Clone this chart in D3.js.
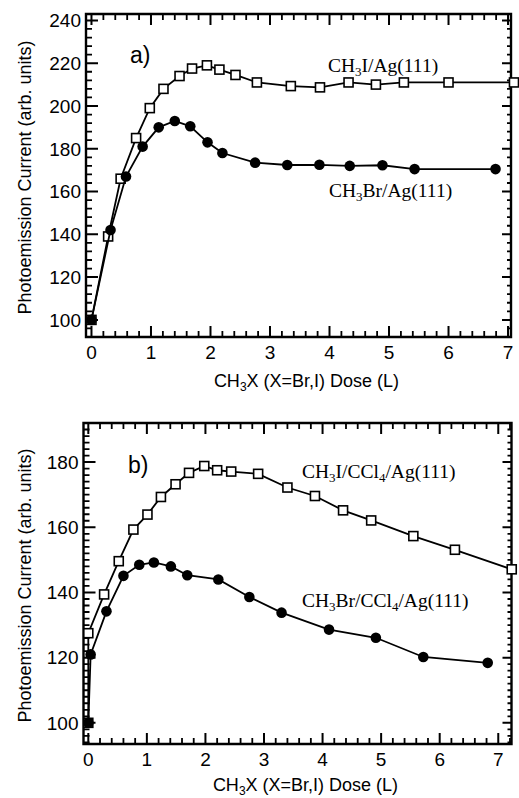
<!DOCTYPE html>
<html>
<head>
<meta charset="utf-8">
<script src="https://cdn.jsdelivr.net/npm/d3@7"></script>
<style>
  body { margin: 0; background: #fff; }
  svg { display: block; }
</style>
</head>
<body>
<script>
// panel a) CH3I and CH3Br on Ag(111)
const doseI_a = [0, 0.28, 0.49, 0.75, 0.98, 1.21, 1.48, 1.69, 1.94, 2.15, 2.42, 2.78, 3.35, 3.84, 4.32, 4.78, 5.25, 6.0, 7.1];
const currI_a = [100, 139, 166, 185, 199, 208, 214, 217.5, 219, 217, 214.5, 211, 209.3, 208.7, 211, 210, 211, 211, 211];
const doseBr_a = [0, 0.32, 0.58, 0.86, 1.13, 1.40, 1.66, 1.95, 2.20, 2.75, 3.29, 3.83, 4.34, 4.89, 5.43, 6.79];
const currBr_a = [100, 142, 167, 181, 190, 193, 190.5, 183, 178, 173.5, 172.4, 172.5, 172, 172.3, 170.5, 170.5];

// panel b) same on CCl4 precovered Ag(111)
const doseI_b = [0, 0, 0.27, 0.52, 0.77, 1.01, 1.24, 1.49, 1.72, 1.98, 2.20, 2.44, 2.90, 3.40, 3.87, 4.35, 4.83, 5.55, 6.26, 7.23];
const currI_b = [100, 127.5, 139.4, 149.6, 159.3, 163.9, 169.3, 173.2, 176.7, 178.8, 177.5, 177.1, 176.4, 172.2, 169.6, 165.2, 162.1, 157.3, 153.1, 147.1];
const doseBr_b = [0, 0.04, 0.31, 0.60, 0.87, 1.12, 1.41, 1.69, 2.22, 2.75, 3.30, 4.11, 4.91, 5.72, 6.82];
const currBr_b = [100, 121, 134.2, 145.1, 148.5, 149.2, 148, 145.3, 144, 138.6, 133.8, 128.6, 126.1, 120.2, 118.4];

const xTicks = [0, 1, 2, 3, 4, 5, 6, 7];
const yTicks_a = [100, 120, 140, 160, 180, 200, 220, 240];
const yTicks_b = [100, 120, 140, 160, 180];

const W = 519, H = 798;
const svg = d3.select("body").append("svg")
  .attr("width", W)
  .attr("height", H);

const sans = "Liberation Sans, Arial, sans-serif";
const serif = "Liberation Serif, Times New Roman, serif";

function drawPanel(cfg) {
  const x = d3.scaleLinear().domain(cfg.xDomain).range([cfg.left, cfg.right]);
  const y = d3.scaleLinear().domain(cfg.yDomain).range([cfg.bottom, cfg.top]);
  const g = svg.append("g");

  // frame
  g.append("path")
    .attr("d", `M${cfg.left},${cfg.top}H${cfg.right}V${cfg.bottom}H${cfg.left}Z`)
    .attr("fill", "none").attr("stroke", "#000").attr("stroke-width", 2.4);

  const xMinor = d3.range(0, 7.3, 0.2).filter(v => v <= cfg.xDomain[1] && Math.abs(v - Math.round(v)) > 0.01);
  const yMinor = d3.range(100 - cfg.yMinorStep * 3, cfg.yDomain[1], cfg.yMinorStep)
    .filter(v => v >= cfg.yDomain[0] && v % 20 !== 0);

  // inward ticks on all four sides
  const tickPath = (vals, fn) => vals.map(d => fn(d)).join("");
  function xTickPaths(vals, len, w) {
    g.append("path")
      .attr("d", tickPath(vals, d => `M${x(d)},${cfg.bottom}V${cfg.bottom - len}M${x(d)},${cfg.top}V${cfg.top + len}`))
      .attr("fill", "none").attr("stroke", "#000").attr("stroke-width", w);
  }
  function yTickPaths(vals, lenL, lenR, w) {
    g.append("path")
      .attr("d", tickPath(vals, d => `M${cfg.left},${y(d)}H${cfg.left + lenL}M${cfg.right},${y(d)}H${cfg.right - lenR}`))
      .attr("fill", "none").attr("stroke", "#000").attr("stroke-width", w);
  }
  xTickPaths(xMinor, 6, 1.8);
  xTickPaths(xTicks, 11, 2);
  yTickPaths(yMinor, 6, 4, 1.8);
  yTickPaths(cfg.yTicks, 12, 9, 2);

  // tick labels
  g.append("g").selectAll("text").data(xTicks).join("text")
    .attr("x", d => x(d)).attr("y", cfg.bottom + 22)
    .attr("text-anchor", "middle")
    .attr("font-family", sans).attr("font-size", 19)
    .text(d => d);
  g.append("g").selectAll("text").data(cfg.yTicks).join("text")
    .attr("x", cfg.left - 5).attr("y", d => y(d) + 6.8)
    .attr("text-anchor", "end")
    .attr("font-family", sans).attr("font-size", 19)
    .text(d => d);

  const line = d3.line().x(d => x(d[0])).y(d => y(d[1]));

  // squares series (CH3I)
  const ptsI = cfg.doseI.map((d, i) => [d, cfg.currI[i]]);
  g.append("path").datum(ptsI)
    .attr("d", line).attr("fill", "none").attr("stroke", "#000").attr("stroke-width", 1.8);
  g.append("g").selectAll("rect").data(ptsI).join("rect")
    .attr("x", d => x(d[0]) - 4.5).attr("y", d => y(d[1]) - 4.5)
    .attr("width", 9).attr("height", 9)
    .attr("fill", "#fff").attr("stroke", "#000").attr("stroke-width", 1.6);

  // circles series (CH3Br)
  const ptsBr = cfg.doseBr.map((d, i) => [d, cfg.currBr[i]]);
  g.append("path").datum(ptsBr)
    .attr("d", line).attr("fill", "none").attr("stroke", "#000").attr("stroke-width", 1.8);
  g.append("g").selectAll("circle").data(ptsBr).join("circle")
    .attr("cx", d => x(d[0])).attr("cy", d => y(d[1])).attr("r", 5.3)
    .attr("fill", "#000");

  // panel letter
  g.append("text").attr("x", cfg.letterPos[0]).attr("y", cfg.letterPos[1])
    .attr("font-family", sans).attr("font-size", 23)
    .text(cfg.letter);

  // series labels (serif, with subscripts)
  cfg.labels.forEach(lab => {
    const t = g.append("text").attr("x", lab.x).attr("y", lab.y)
      .attr("font-family", serif).attr("font-size", 19.5);
    lab.parts.forEach(p => {
      if (p.sub) {
        t.append("tspan").attr("font-size", 13).attr("dy", 4).text(p.t);
      } else {
        t.append("tspan").attr("dy", p.after ? -4 : 0).text(p.t);
      }
    });
  });

  // axis titles
  const xt = g.append("text")
    .attr("x", (cfg.left + cfg.right) / 2 + 8).attr("y", cfg.bottom + cfg.xTitleGap)
    .attr("text-anchor", "middle")
    .attr("font-family", sans).attr("font-size", 18);
  xt.append("tspan").text("CH");
  xt.append("tspan").attr("font-size", 12).attr("dy", 4).text("3");
  xt.append("tspan").attr("dy", -4).text("X (X=Br,I) Dose (L)");

  g.append("text")
    .attr("transform", `translate(31,${(cfg.top + cfg.bottom) / 2 + 2}) rotate(-90)`)
    .attr("text-anchor", "middle")
    .attr("font-family", sans).attr("font-size", 18)
    .text("Photoemission Current (arb. units)");
}

drawPanel({
  left: 86, right: 511, top: 14, bottom: 337,
  xDomain: [-0.092, 7.05], yDomain: [92, 243],
  yTicks: yTicks_a, yMinorStep: 4, xTitleGap: 50,
  doseI: doseI_a, currI: currI_a, doseBr: doseBr_a, currBr: currBr_a,
  letter: "a)", letterPos: [130, 63],
  labels: [
    { x: 328, y: 72, parts: [{ t: "CH" }, { t: "3", sub: true }, { t: "I/Ag(111)", after: true }] },
    { x: 329, y: 197, parts: [{ t: "CH" }, { t: "3", sub: true }, { t: "Br/Ag(111)", after: true }] }
  ]
});

drawPanel({
  left: 83.5, right: 511.5, top: 423, bottom: 744,
  xDomain: [-0.082, 7.226], yDomain: [93.5, 192],
  yTicks: yTicks_b, yMinorStep: 2, xTitleGap: 47,
  doseI: doseI_b, currI: currI_b, doseBr: doseBr_b, currBr: currBr_b,
  letter: "b)", letterPos: [128, 473],
  labels: [
    { x: 302, y: 478, parts: [{ t: "CH" }, { t: "3", sub: true }, { t: "I/CCl", after: true }, { t: "4", sub: true }, { t: "/Ag(111)", after: true }] },
    { x: 302, y: 607, parts: [{ t: "CH" }, { t: "3", sub: true }, { t: "Br/CCl", after: true }, { t: "4", sub: true }, { t: "/Ag(111)", after: true }] }
  ]
});
</script>
</body>
</html>
